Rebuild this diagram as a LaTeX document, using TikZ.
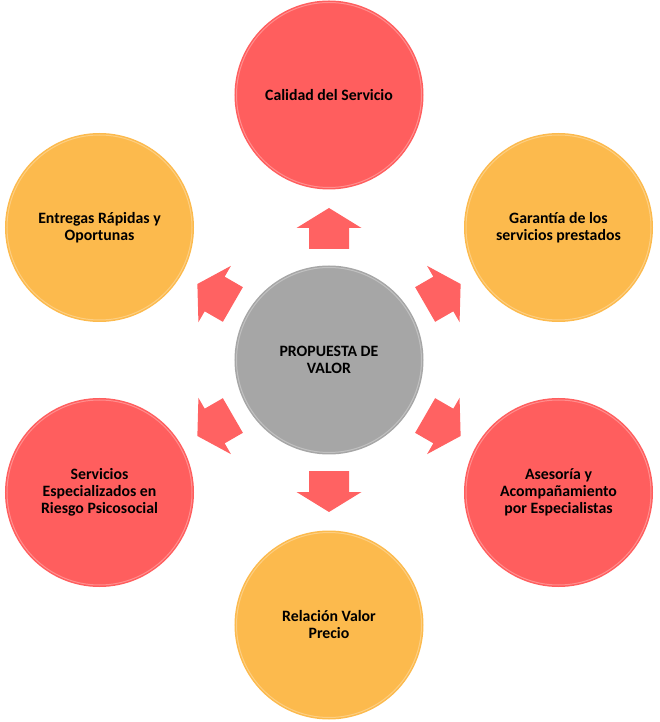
\documentclass[tikz,border=0pt]{standalone}
\usepackage{fontspec}
\setmainfont{Carlito}
\definecolor{cred}{RGB}{255,94,94}
\definecolor{corange}{RGB}{252,186,77}
\definecolor{cgray}{RGB}{166,166,166}
\definecolor{carrow}{RGB}{255,98,98}
\tikzset{
  bubble/.style={circle, minimum size=189pt, inner sep=0pt, align=center,
    font=\fontsize{15.8}{17}\selectfont\bfseries, text=black},
  redb/.style={bubble, fill=cred},
  orab/.style={bubble, fill=corange},
  grayb/.style={bubble, fill=cgray},
  rim/.style={white, opacity=0.3, line width=1pt},
  outarrow/.style={fill=carrow},
}
\begin{document}
\begin{tikzpicture}[x=1pt,y=1pt]
\useasboundingbox (-329,-362) rectangle (331,360);
\node[grayb] (c) at (0,0) {PROPUESTA DE\\VALOR};
\node[redb] (t) at (90:265) {Calidad del Servicio};
\node[orab] (rt) at (30:265) {Garantía de los\\servicios prestados};
\node[redb] (rb) at (-30:265) {Asesoría y\\Acompañamiento\\por Especialistas};
\node[orab] (b) at (-90:265) {Relación Valor\\Precio};
\node[redb] (lb) at (-150:265) {Servicios\\Especializados en\\Riesgo Psicosocial};
\node[orab] (lt) at (150:265) {Entregas Rápidas y\\Oportunas};
\foreach \n in {c,t,rt,rb,b,lb,lt}
  \draw[rim] (\n.center) circle (92.5);
\foreach \a in {90,30,-30,-90,-150,150}
  \fill[outarrow, rotate=\a] (111,-20) -- (132,-20) -- (132,-32.5) -- (152,0)
     -- (132,32.5) -- (132,20) -- (111,20) -- cycle;
\end{tikzpicture}
\end{document}
